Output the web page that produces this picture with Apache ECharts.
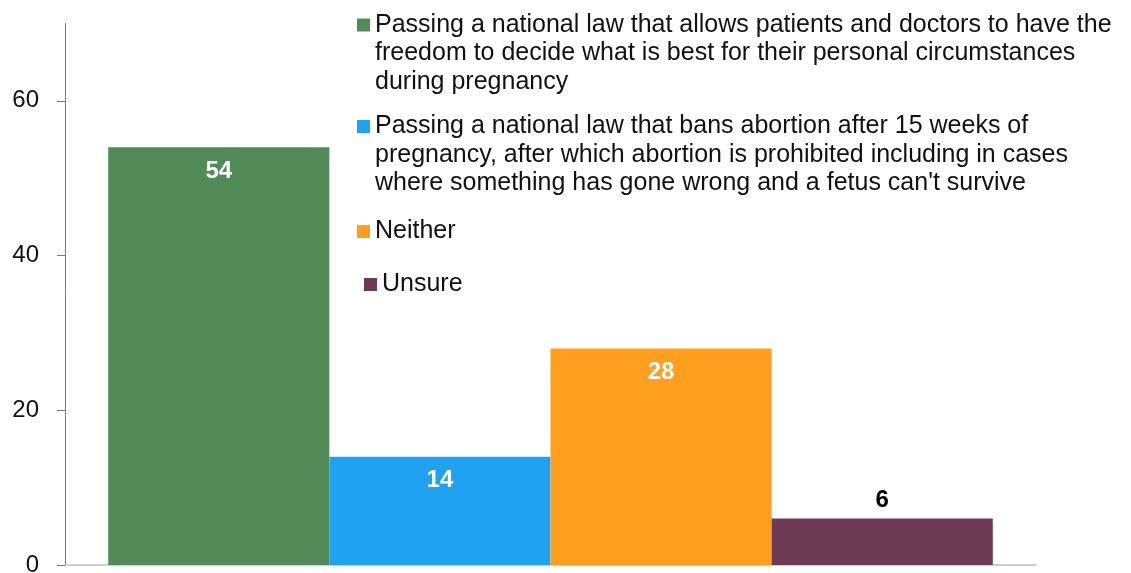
<!DOCTYPE html>
<html>
<head>
<meta charset="utf-8">
<script src="https://cdn.jsdelivr.net/npm/echarts@6/dist/echarts.min.js"></script>
<style>
  html, body { margin: 0; padding: 0; background: #fff; }
  #chart { width: 1131px; height: 573px; }
</style>
</head>
<body>
<div id="chart"></div>
<script>
// 数据
var seriesNames = [
  'Passing a national law that allows patients and doctors to have the\nfreedom to decide what is best for their personal circumstances\nduring pregnancy',
  'Passing a national law that bans abortion after 15 weeks of\npregnancy, after which abortion is prohibited including in cases\nwhere something has gone wrong and a fetus can\'t survive',
  'Neither',
  'Unsure'
];
var seriesValues = [54, 14, 28, 6];
var seriesColors = ['#528b57', '#1fa2f0', '#fe9f1f', '#6e3a56'];
var yTicks = [0, 20, 40, 60];

var myChart = echarts.init(document.getElementById('chart'));

var font = 'Liberation Sans, Arial, sans-serif';
var lh = 28.5;

var series = [];
for (var i = 0; i < seriesNames.length; i++) {
  var last = i === seriesNames.length - 1;
  series.push({
    name: seriesNames[i],
    type: 'bar',
    data: [seriesValues[i]],
    barGap: '0%',
    barCategoryGap: '8.9%',
    itemStyle: { color: seriesColors[i] },
    label: {
      show: true,
      position: last ? 'top' : 'insideTop',
      distance: last ? 6 : 12,
      color: last ? '#000' : '#fff',
      fontWeight: 'bold',
      fontSize: 24,
      fontFamily: font
    }
  });
}

// 图例：每项单独定位，图标对齐第一行（前面补空行）
function legendFor(idx, left, iconTop) {
  var lines = seriesNames[idx].split('\n').length;
  var total = lines * 2 - 1;
  var prefix = new Array(lines).join('\n');
  return {
    data: [seriesNames[idx]],
    left: left,
    top: iconTop + 6.5 - total * lh / 2,
    orient: 'vertical',
    padding: 0,
    icon: 'rect',
    itemWidth: 13,
    itemHeight: 13,
    selectedMode: false,
    formatter: function (name) { return prefix + name; },
    textStyle: {
      fontSize: 25,
      fontFamily: font,
      color: '#111',
      lineHeight: lh
    }
  };
}

var option = {
  backgroundColor: '#fff',
  animation: false,
  grid: { left: 65, right: 95, top: 23.5, bottom: 8, outerBoundsMode: 'none', containLabel: false },
  legend: [
    legendFor(0, 357, 18.5),
    legendFor(1, 357, 120),
    legendFor(2, 357, 225),
    legendFor(3, 364, 278)
  ],
  xAxis: {
    type: 'category',
    data: [''],
    axisLine: { show: true, lineStyle: { color: '#bfbfbf', width: 1.5 } },
    axisTick: { show: false },
    axisLabel: { show: false }
  },
  yAxis: {
    type: 'value',
    min: 0,
    max: 70,
    interval: 20,
    splitLine: { show: false },
    axisLine: { show: true, lineStyle: { color: '#7a7a7a', width: 1 } },
    axisTick: { show: true, length: 8, lineStyle: { color: '#7a7a7a' } },
    axisLabel: {
      showMaxLabel: false,
      margin: 26,
      fontSize: 24,
      fontFamily: font,
      color: '#111',
      formatter: function (v) { return yTicks.indexOf(v) >= 0 ? String(v) : ''; }
    }
  },
  series: series
};

myChart.setOption(option);
window.addEventListener('resize', function () {
  myChart.resize();
});
</script>
</body>
</html>
